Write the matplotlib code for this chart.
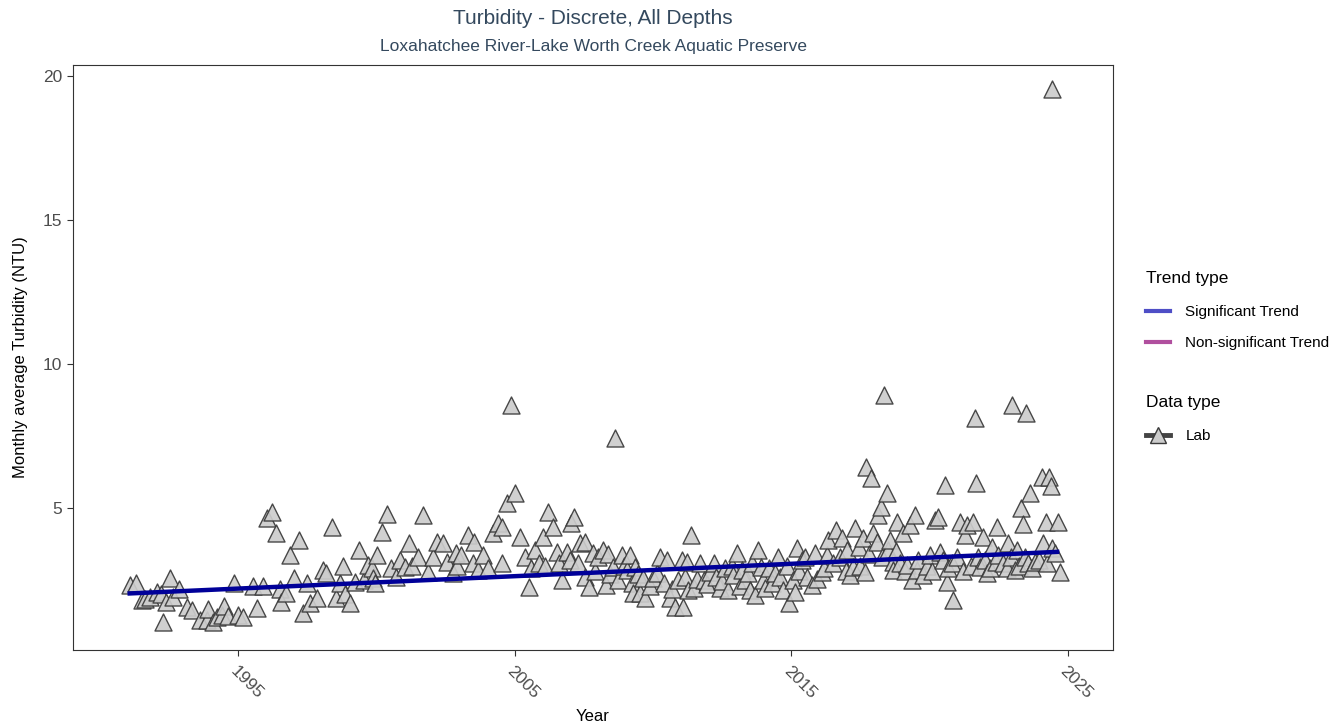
import matplotlib
matplotlib.use('Agg')
import matplotlib.pyplot as plt
from matplotlib.lines import Line2D
import numpy as np

plt.rcParams['font.family'] = ['Liberation Sans', 'DejaVu Sans']

# monthly averages (year, NTU)
years = [
    1991.09, 1991.31, 1991.53, 1991.64, 1991.80, 1992.07, 1992.20, 1992.29, 1992.40, 1992.54,
    1992.65, 1992.87, 1993.16, 1993.34, 1993.63, 1993.88, 1993.90, 1994.10, 1994.24, 1994.42,
    1994.50, 1994.64, 1994.86, 1995.00,
    1995.18, 1995.54, 1995.69, 1995.90, 1996.05, 1996.23, 1996.37, 1996.50, 1996.56, 1996.74,
    1996.88, 1997.03, 1997.21, 1997.35, 1997.50, 1997.60, 1997.86, 1998.07, 1998.18, 1998.40,
    1998.54, 1998.69, 1998.80, 1998.87, 1999.05, 1999.23, 1999.38, 1999.56, 1999.70, 1999.85,
    1999.88, 1999.95, 2000.03, 2000.21, 2000.39, 2000.53, 2000.70, 2000.86, 2001.04, 2001.18,
    2001.30, 2001.51, 2001.69, 2001.87, 2002.05, 2002.20, 2002.41, 2002.56, 2002.78, 2002.88,
    2002.90, 2003.07, 2003.32, 2003.50, 2003.54, 2003.68, 2003.86, 2004.04, 2004.22, 2004.40,
    2004.55, 2004.55, 2004.73, 2004.87, 2005.02, 2005.20, 2005.38, 2005.52, 2005.60, 2005.74,
    2005.89, 2006.03, 2006.10, 2006.21, 2006.39, 2006.54, 2006.60, 2006.72, 2006.90, 2007.00,
    2007.04, 2007.15, 2007.30, 2007.37, 2007.55, 2007.55, 2007.69, 2007.84, 2007.90, 2008.02,
    2008.20, 2008.31, 2008.38, 2008.45, 2008.56, 2008.63, 2008.74, 2008.89, 2008.95, 2009.07,
    2009.18, 2009.25, 2009.29, 2009.36, 2009.45, 2009.54, 2009.65, 2009.72, 2009.90, 2010.01,
    2010.15, 2010.27, 2010.40, 2010.52, 2010.62, 2010.70, 2010.80, 2010.91, 2011.06, 2011.09,
    2011.15, 2011.24, 2011.27, 2011.38, 2011.49, 2011.60, 2011.71, 2011.85, 2011.95, 2012.07,
    2012.22, 2012.30, 2012.43, 2012.50, 2012.61, 2012.72, 2012.85, 2012.90, 2013.05, 2013.15,
    2013.23, 2013.34, 2013.45, 2013.52, 2013.60, 2013.70, 2013.81, 2013.92, 2013.99, 2014.06,
    2014.20, 2014.31, 2014.42, 2014.53, 2014.60, 2014.71, 2014.85, 2014.93, 2015.05, 2015.14,
    2015.22, 2015.30, 2015.40, 2015.50, 2015.58, 2015.76, 2015.87, 2015.95, 2016.12, 2016.20,
    2016.30, 2016.34, 2016.50, 2016.63, 2016.75, 2016.84, 2017.00, 2017.03, 2017.13, 2017.24,
    2017.31, 2017.46, 2017.50, 2017.60, 2017.68, 2017.71, 2017.80, 2017.89, 2017.97, 2018.11,
    2018.15, 2018.25, 2018.30, 2018.36, 2018.47, 2018.51, 2018.58, 2018.69, 2018.69, 2018.80,
    2018.83, 2018.94, 2019.05, 2019.10, 2019.20, 2019.30, 2019.38, 2019.48, 2019.56, 2019.60,
    2019.77, 2019.90, 2020.03, 2020.10, 2020.21, 2020.32, 2020.39, 2020.50, 2020.57, 2020.64,
    2020.68, 2020.80, 2020.86, 2021.00, 2021.11, 2021.20, 2021.29, 2021.37, 2021.50, 2021.58,
    2021.65, 2021.69, 2021.75, 2021.84, 2021.94, 2022.00, 2022.09, 2022.20, 2022.27, 2022.41,
    2022.45, 2022.49, 2022.65, 2022.81, 2022.85, 2022.95, 2022.99, 2023.10, 2023.17, 2023.25,
    2023.32, 2023.39, 2023.45, 2023.50, 2023.57, 2023.64, 2023.70, 2023.82, 2023.95, 2024.08,
    2024.11, 2024.22, 2024.25, 2024.33, 2024.40, 2024.44, 2024.45, 2024.55, 2024.66, 2024.73,
]
turbidity = [
    2.33, 2.40, 1.80, 1.85, 1.90, 2.10, 2.00, 1.04, 1.75, 2.57,
    1.90, 2.20, 1.56, 1.46, 1.10, 1.10, 1.50, 1.05, 1.20, 1.30,
    1.60, 1.25, 2.40, 1.30,
    1.20, 2.30, 1.53, 2.30, 4.65, 4.86, 4.13, 2.20, 1.74, 2.05,
    3.37, 2.57, 3.90, 1.35, 2.40, 1.70, 1.87, 2.85, 2.74, 4.34,
    1.87, 2.40, 3.00, 2.00, 1.70, 2.43, 3.54, 2.50, 3.02, 2.90,
    2.57, 2.40, 3.37, 4.17, 4.80, 2.90, 2.60, 3.20, 2.95, 3.77,
    3.00, 3.30, 4.76, 2.78, 3.30, 3.82, 3.77, 3.13, 2.74, 3.44,
    3.00, 3.37, 4.06, 3.10, 3.82, 2.85, 3.37, 2.90, 4.13, 4.48,
    3.09, 4.34, 5.17, 8.58, 5.52, 4.00, 3.30, 2.26, 2.90, 3.54,
    3.09, 4.00, 3.00, 4.86, 4.34, 3.47, 3.10, 2.50, 3.47, 3.20,
    4.48, 4.69, 3.09, 3.77, 3.82, 2.60, 2.26, 3.44, 2.80, 3.30,
    3.54, 2.33, 3.40, 2.70, 2.95, 7.43, 2.50, 3.37, 3.00, 2.85,
    3.37, 2.40, 2.05, 2.95, 2.70, 2.05, 2.57, 1.87, 2.30, 2.57,
    2.75, 3.30, 2.40, 3.20, 1.87, 2.20, 1.56, 2.50, 3.20, 1.56,
    2.60, 3.13, 2.15, 4.06, 2.22, 2.55, 3.09, 2.50, 2.35, 2.78,
    3.09, 2.60, 2.22, 2.45, 2.92, 2.15, 3.00, 2.67, 3.44, 2.30,
    2.85, 2.50, 2.75, 2.15, 3.10, 1.98, 3.54, 2.95, 2.50, 2.22,
    2.90, 2.40, 2.74, 3.30, 2.60, 2.15, 3.00, 1.70, 2.50, 2.08,
    3.61, 2.80, 3.19, 3.30, 2.60, 2.33, 3.44, 2.55, 2.78, 2.90,
    3.37, 3.89, 3.10, 4.24, 3.30, 3.96, 2.80, 3.54, 2.67, 2.95,
    4.31, 3.65, 3.00, 3.96, 2.78, 6.42, 3.40, 6.04, 4.13, 3.82,
    4.76, 5.03, 3.30, 8.92, 5.52, 3.54, 3.89, 3.13, 2.85, 3.50,
    4.51, 3.09, 4.13, 2.80, 3.02, 4.41, 2.50, 4.76, 2.85, 3.20,
    2.67, 3.00, 3.37, 2.80, 4.58, 4.69, 3.47, 3.20, 5.80, 2.43,
    2.92, 3.10, 1.80, 3.30, 4.51, 2.80, 4.06, 4.41, 3.00, 4.51,
    8.13, 5.87, 3.30, 2.95, 4.00, 3.20, 2.74, 2.90, 3.65, 3.13,
    4.34, 3.37, 3.10, 2.92, 3.77, 3.30, 8.58, 2.85, 3.54, 3.00,
    5.00, 4.44, 3.30, 8.30, 3.09, 5.52, 2.90, 3.13, 3.20, 6.08,
    3.77, 4.51, 3.10, 6.08, 5.76, 19.55, 3.60, 3.44, 4.51, 2.78,
]

trend_years = [1991.0, 2024.7]
trend_vals = [2.03, 3.48]

x_ticks = [1995, 2005, 2015, 2025]
y_ticks = [5, 10, 15, 20]

fig = plt.figure(figsize=(13.43, 7.28), dpi=100)
ax = fig.add_axes([73 / 1343, 1 - 650 / 728, (1113 - 73) / 1343, (650 - 65) / 728])

ax.scatter(years, turbidity, marker='^', s=150, facecolor='#cccccc', edgecolor='#3a3a3a',
           linewidths=1.0, alpha=0.92, zorder=3)
ax.plot(trend_years, trend_vals, color='#000099', lw=3.2, solid_capstyle='butt', zorder=4)

ax.set_xlim(1989.03, 2026.64)
ax.set_ylim(0.07, 20.38)
ax.set_xticks(x_ticks)
ax.set_yticks(y_ticks)
ax.set_xticklabels([str(t) for t in x_ticks], rotation=-45, ha='left', va='top',
                   rotation_mode='anchor')
ax.tick_params(axis='both', colors='#333333', labelcolor='#4d4d4d', labelsize=12.5,
               length=4.5, width=0.8)
ax.tick_params(axis='x', pad=5)
for s in ax.spines.values():
    s.set_color('#333333')
    s.set_linewidth(0.8)

ax.set_xlabel('Year', fontsize=12, labelpad=5.5)
ax.set_ylabel('Monthly average Turbidity (NTU)', fontsize=12, labelpad=10)

fig.text(593 / 1343, 1 - 18 / 728, 'Turbidity - Discrete, All Depths', ha='center', va='center',
         fontsize=15, color='#34495e')
fig.text(593 / 1343, 1 - 46 / 728, 'Loxahatchee River-Lake Worth Creek Aquatic Preserve',
         ha='center', va='center', fontsize=12.5, color='#34495e')

trend_handles = [Line2D([], [], color='#4e4ec6', lw=3),
                 Line2D([], [], color='#b04f9e', lw=3)]
leg1 = fig.legend(trend_handles, ['Significant Trend', 'Non-significant Trend'],
                  loc='upper left', bbox_to_anchor=(1132 / 1343, 1 - 257 / 728),
                  frameon=False, title='Trend type', fontsize=11, title_fontsize=12.5,
                  alignment='left', handlelength=1.6, handletextpad=1.0, labelspacing=1.1)
leg1._legend_box.sep = 14
lab_handle = (Line2D([], [], color='#444444', lw=3.5),
              Line2D([], [], marker='^', ms=11, ls='none', mfc='#cccccc', mec='#3a3a3a'))
leg2 = fig.legend([lab_handle], ['Lab'], loc='upper left',
                  bbox_to_anchor=(1132 / 1343, 1 - 381 / 728), frameon=False,
                  title='Data type', fontsize=11, title_fontsize=12.5, alignment='left',
                  handlelength=1.6, handletextpad=1.0)
leg2._legend_box.sep = 14

fig.savefig('out.png', dpi=100)
